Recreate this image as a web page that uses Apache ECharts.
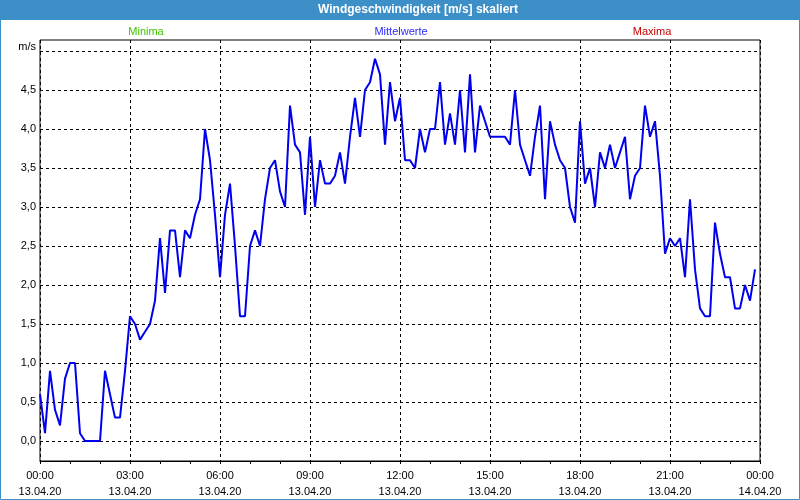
<!DOCTYPE html>
<html>
<head>
<meta charset="utf-8">
<script src="https://cdn.jsdelivr.net/npm/echarts@6/dist/echarts.min.js"></script>
<style>
html,body{margin:0;padding:0;background:#fff;}
#chart{width:800px;height:500px;}
</style>
</head>
<body>
<div id="chart"></div>
<script>
// Wind speed (mean values), 10-minute steps starting 13.04.20 00:00
const stepMinutes = 10;
const windMean = [
  0.6, 0.1, 0.9, 0.4, 0.2, 0.8, 1.0, 1.0, 0.1, 0.0, 0.0, 0.0,
  0.0, 0.9, 0.6, 0.3, 0.3, 0.9, 1.6, 1.5, 1.3, 1.4, 1.5, 1.8,
  2.6, 1.9, 2.7, 2.7, 2.1, 2.7, 2.6, 2.9, 3.1, 4.0, 3.6, 2.9,
  2.1, 2.9, 3.3, 2.5, 1.6, 1.6, 2.5, 2.7, 2.5, 3.1, 3.5, 3.6,
  3.2, 3.0, 4.3, 3.8, 3.7, 2.9, 3.9, 3.0, 3.6, 3.3, 3.3, 3.4,
  3.7, 3.3, 3.9, 4.4, 3.9, 4.5, 4.6, 4.9, 4.7, 3.8, 4.6, 4.1,
  4.4, 3.6, 3.6, 3.5, 4.0, 3.7, 4.0, 4.0, 4.6, 3.8, 4.2, 3.8,
  4.5, 3.7, 4.7, 3.7, 4.3, 4.1, 3.9, 3.9, 3.9, 3.9, 3.8, 4.5,
  3.8, 3.6, 3.4, 3.9, 4.3, 3.1, 4.1, 3.8, 3.6, 3.5, 3.0, 2.8,
  4.1, 3.3, 3.5, 3.0, 3.7, 3.5, 3.8, 3.5, 3.7, 3.9, 3.1, 3.4,
  3.5, 4.3, 3.9, 4.1, 3.4, 2.4, 2.6, 2.5, 2.6, 2.1, 3.1, 2.2,
  1.7, 1.6, 1.6, 2.8, 2.4, 2.1, 2.1, 1.7, 1.7, 2.0, 1.8, 2.2
];
const xTickLabels = [
  '00:00\n13.04.20', '03:00\n13.04.20', '06:00\n13.04.20', '09:00\n13.04.20',
  '12:00\n13.04.20', '15:00\n13.04.20', '18:00\n13.04.20', '21:00\n13.04.20',
  '00:00\n14.04.20'
];
const yTickLabels = ['0,0','0,5','1,0','1,5','2,0','2,5','3,0','3,5','4,0','4,5',''];
const titleText = 'Windgeschwindigkeit [m/s] skaliert';
const headerLabels = ['Minima', 'Mittelwerte', 'Maxima'];
const headerColors = ['#40c400', '#2a2aff', '#c80000'];
const headerX = [146, 401, 652];

const FONT = 'Liberation Sans';
const seriesData = windMean.map((v, i) => [i * stepMinutes, v]);

const chart = echarts.init(document.getElementById('chart'), null, {renderer: 'canvas'});
chart.setOption({
  animation: false,
  backgroundColor: '#ffffff',
  textStyle: {fontFamily: FONT},
  graphic: [
    {type: 'rect', z: 0, shape: {x: 0, y: 0, width: 800, height: 20}, style: {fill: '#3d8fc7'}},
    {type: 'rect', z: 0, shape: {x: 0.5, y: 0.5, width: 799, height: 499}, style: {fill: 'none', stroke: '#3d8fc7', lineWidth: 1}},
    {type: 'text', z: 10, x: 418, y: 10, style: {text: titleText, fill: '#ffffff', font: 'bold 12px "' + FONT + '"', textAlign: 'center', textVerticalAlign: 'middle'}}
  ].concat(headerLabels.map((t, i) => ({
    type: 'text', z: 10, x: headerX[i], y: 32,
    style: {text: t, fill: headerColors[i], font: '11px "' + FONT + '"', textAlign: 'center', textVerticalAlign: 'middle'}
  }))),
  grid: [
    {left: 40, right: 40, top: 40, bottom: 39, show: true, borderColor: '#000', borderWidth: 1, backgroundColor: '#ffffff'},
    {left: 40, right: 40, top: 51, bottom: 59}
  ],
  xAxis: [
    {
      gridIndex: 0, type: 'value', min: 0, max: 1440, interval: 180,
      axisLine: {show: true, onZero: false, lineStyle: {color: '#000', width: 1}},
      axisTick: {show: true, length: 3, lineStyle: {color: '#000'}},
      minorTick: {show: true, splitNumber: 3, length: 3, lineStyle: {color: '#000'}},
      splitLine: {show: true, lineStyle: {color: '#000', type: [3, 3], width: 1}},
      axisLabel: {
        color: '#000', fontSize: 11, lineHeight: 16, margin: 7, fontFamily: FONT,
        formatter: (v) => xTickLabels[Math.round(v / 180)]
      }
    },
    {gridIndex: 1, type: 'value', min: 0, max: 1440, show: false}
  ],
  yAxis: [
    {gridIndex: 0, type: 'value', min: 0, max: 1, show: false},
    {
      gridIndex: 1, type: 'value', min: 0, max: 5, interval: 0.5,
      name: 'm/s', nameLocation: 'end', nameGap: 4,
      nameTextStyle: {color: '#000', fontSize: 11, align: 'right', verticalAlign: 'middle', fontFamily: FONT, padding: [0, 4, 0, 0]},
      axisLine: {show: false},
      axisTick: {show: false},
      splitLine: {show: true, lineStyle: {color: '#000', type: [3, 3], width: 1}},
      axisLabel: {
        color: '#000', fontSize: 11, margin: 4, fontFamily: FONT,
        formatter: (v) => yTickLabels[Math.round(v / 0.5)]
      }
    }
  ],
  series: [{
    type: 'line', xAxisIndex: 1, yAxisIndex: 1,
    data: seriesData, symbol: 'none', clip: false,
    lineStyle: {color: '#0000ee', width: 2},
    z: 5
  }]
});
</script>
</body>
</html>
